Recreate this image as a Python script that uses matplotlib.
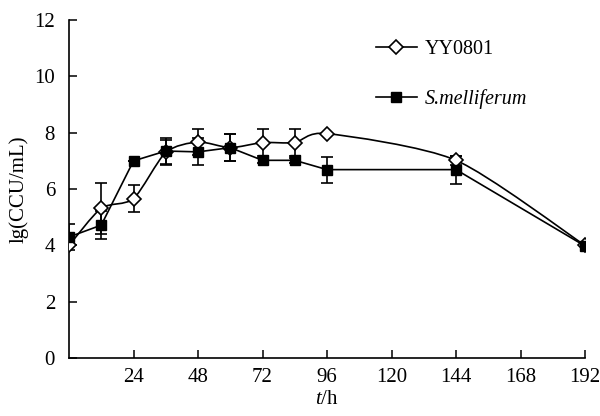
import matplotlib
matplotlib.use("Agg")
import matplotlib.pyplot as plt
from matplotlib.path import Path
from matplotlib.patches import PathPatch
from matplotlib.lines import Line2D
import numpy as np

plt.rcParams['font.family'] = ['Liberation Serif', 'DejaVu Serif']
plt.rcParams['mathtext.fontset'] = 'custom'
plt.rcParams['mathtext.rm'] = 'Liberation Serif'
plt.rcParams['mathtext.it'] = 'Liberation Serif:italic'

hours = [0, 12, 24, 36, 48, 60, 72, 84, 96, 144, 192]
yy0801 = [4.0, 5.32, 5.66, 7.3, 7.67, 7.47, 7.65, 7.65, 7.97, 7.02, 4.0]
yy0801_err = [0.0, 0.9, 0.47, 0.45, 0.47, 0.48, 0.49, 0.49, 0.0, 0.17, 0.0]
smel = [4.3, 4.72, 7.0, 7.35, 7.32, 7.47, 7.02, 7.02, 6.69, 6.69, 3.98]
smel_err = [0.46, 0.5, 0.0, 0.45, 0.48, 0.48, 0.1, 0.1, 0.46, 0.5, 0.0]
xticks = [24, 48, 72, 96, 120, 144, 168, 192]
yticks = [0, 2, 4, 6, 8, 10, 12]

fig = plt.figure(figsize=(6.0, 4.16), dpi=100)
ax = fig.add_axes([0.115, 0.139, 0.86, 0.813])

lw = 1.2

# smoothed line for YY0801 (Bezier through the points)
x = np.array(hours, float)
y = np.array(yy0801, float)
n = len(x)
k = 1.0 / 8.0
verts = [(x[0], y[0])]
codes = [Path.MOVETO]
for i in range(n - 1):
    i0 = max(i - 1, 0)
    i3 = min(i + 2, n - 1)
    c1 = (x[i] + (x[i + 1] - x[i0]) * k, y[i] + (y[i + 1] - y[i0]) * k)
    c2 = (x[i + 1] - (x[i3] - x[i]) * k, y[i + 1] - (y[i3] - y[i]) * k)
    verts += [c1, c2, (x[i + 1], y[i + 1])]
    codes += [Path.CURVE4] * 3
ax.add_patch(PathPatch(Path(verts, codes), facecolor='none', edgecolor='black',
                       lw=lw, zorder=2))

ax.errorbar(hours, yy0801, yerr=yy0801_err, fmt='none', ecolor='black',
            elinewidth=lw, capsize=4.5, capthick=lw, zorder=3)
ax.errorbar(hours, smel, yerr=smel_err, fmt='none', ecolor='black',
            elinewidth=lw, capsize=4.5, capthick=lw, zorder=3)
ax.plot(hours, yy0801, linestyle='none', marker='D', markersize=7.5,
        markerfacecolor='white', markeredgecolor='black', markeredgewidth=lw,
        zorder=4)
ax.plot(hours, smel, color='black', lw=lw, marker='s', markersize=6.5,
        markerfacecolor='black', markeredgecolor='black', zorder=5)

ax.set_xlim(0, 192)
ax.set_ylim(0, 12)
ax.set_xticks(xticks)
ax.set_yticks(yticks)
ax.spines['top'].set_visible(False)
ax.spines['right'].set_visible(False)
for s in ('left', 'bottom'):
    ax.spines[s].set_linewidth(1.2)
ax.tick_params(direction='in', length=6, width=1.1, labelsize=15)
ax.tick_params(axis='y', pad=10)
ax.tick_params(axis='x', pad=7)
ax.set_xlabel('$t$/h', fontsize=15, labelpad=2)
ax.set_ylabel('lg(CCU/mL)', fontsize=15, labelpad=4)

h1 = Line2D([], [], color='black', lw=lw, marker='D', markersize=7.5,
            markerfacecolor='white', markeredgecolor='black', markeredgewidth=lw)
h2 = Line2D([], [], color='black', lw=lw, marker='s', markersize=6.5,
            markerfacecolor='black')
leg = ax.legend([h1, h2], ['YY0801', 'S.melliferum'], loc='upper left',
                bbox_to_anchor=(0.58, 0.965), frameon=False, fontsize=14.5,
                labelspacing=1.5, handlelength=2.0, handletextpad=0.4,
                borderaxespad=0.0)
leg.get_texts()[1].set_fontstyle('italic')

fig.savefig('out.png', dpi=100)
